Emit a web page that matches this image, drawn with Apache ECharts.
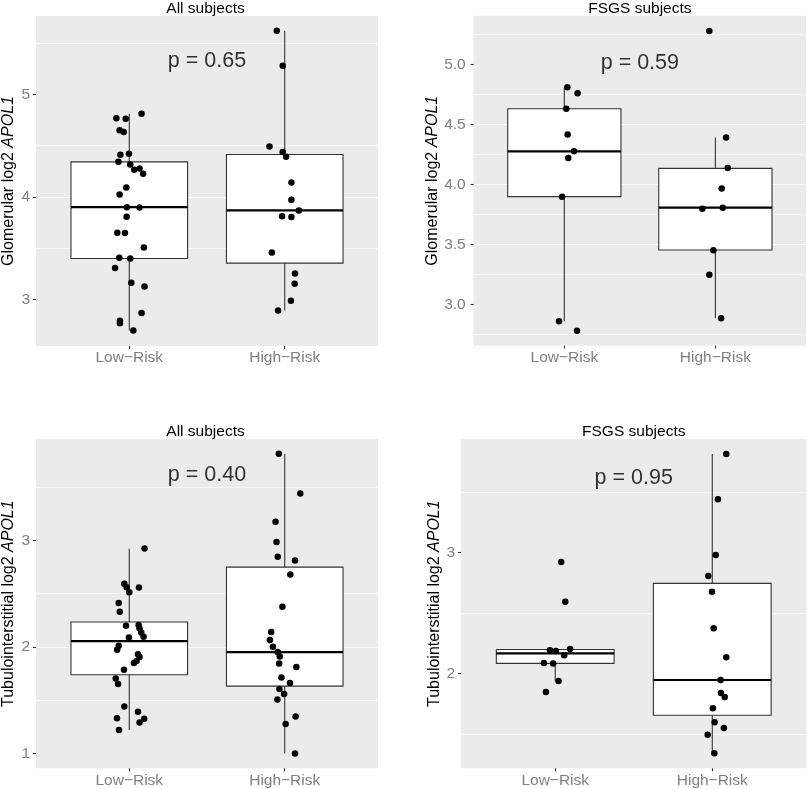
<!DOCTYPE html>
<html><head><meta charset="utf-8">
<script src="https://cdn.jsdelivr.net/npm/echarts@6/dist/echarts.min.js"></script>
<style>html,body{margin:0;padding:0;background:#fff}#chart{width:807px;height:789px}</style>
</head><body><div id="chart"></div>
<script>
// ---------- data ----------
const categories = ['Low\u2212Risk', 'High\u2212Risk'];
const categoryX = [1, 2];
const panelTitles = ['All subjects', 'FSGS subjects', 'All subjects', 'FSGS subjects'];
const yAxisTitles = ['Glomerular log2 ', 'Glomerular log2 ', 'Tubulointerstitial log2 ', 'Tubulointerstitial log2 '];
const geneName = 'APOL1';
const pValueLabels = ['p = 0.65', 'p = 0.59', 'p = 0.40', 'p = 0.95'];
const pValueY = [5.325, 5.01, 3.613, 3.615];
const yLimits = [[2.544, 5.764], [2.658, 5.408], [0.859, 3.951], [1.218, 3.940]];
const yTicks = [[3, 4, 5], [3.0, 3.5, 4.0, 4.5, 5.0], [1, 2, 3], [2, 3]];
const yTickDecimals = [0, 1, 0, 0];

// box stats: [category x, lower whisker, Q1, median, Q3, upper whisker]
const glomAllBoxes = [[1, 2.696, 3.398, 3.899, 4.341, 4.810], [2, 2.891, 3.353, 3.867, 4.413, 5.620]];
const glomFsgsBoxes = [[1, 2.861, 3.900, 4.278, 4.633, 4.811], [2, 2.886, 3.456, 3.808, 4.136, 4.394]];
const tubAllBoxes = [[1, 1.218, 1.737, 2.053, 2.232, 2.920], [2, 0.998, 1.631, 1.950, 2.748, 3.812]];
const tubFsgsBoxes = [[1, 1.939, 2.085, 2.168, 2.200, 2.204], [2, 1.342, 1.656, 1.948, 2.747, 3.816]];

// jittered points: [jittered x, value]
const glomAllLow = [[0.917,4.767],[0.977,4.761],[1.079,4.810],[0.938,4.650],[0.964,4.631],[0.943,4.410],[0.998,4.420],[0.930,4.341],[1.006,4.315],[1.032,4.263],[1.066,4.276],[1.089,4.224],[0.981,4.091],[0.938,4.023],[0.985,3.899],[1.066,3.896],[0.983,3.805],[0.923,3.649],[0.972,3.646],[1.094,3.506],[0.936,3.405],[1.006,3.398],[0.909,3.304],[1.013,3.161],[1.098,3.125],[1.079,2.865],[0.940,2.790],[0.940,2.767],[1.026,2.696]];
const glomAllHigh = [[1.949,5.620],[1.987,5.278],[1.902,4.491],[1.987,4.436],[2.009,4.390],[2.043,4.140],[2.043,3.971],[2.091,3.867],[1.983,3.811],[2.043,3.802],[1.917,3.457],[2.066,3.252],[2.064,3.151],[2.040,2.985],[1.957,2.891]];
const glomFsgsLow = [[1.020,4.811],[1.088,4.761],[1.013,4.633],[1.022,4.419],[1.064,4.278],[1.026,4.222],[0.985,3.900],[0.965,2.861],[1.084,2.783]];
const glomFsgsHigh = [[1.960,5.281],[2.071,4.394],[2.082,4.139],[2.042,3.967],[1.914,3.800],[2.049,3.808],[1.987,3.453],[1.960,3.250],[2.038,2.886]];
const tubAllLow = [[1.098,2.923],[0.968,2.592],[0.983,2.560],[1.000,2.513],[1.062,2.557],[0.932,2.410],[0.939,2.329],[0.979,2.197],[1.060,2.204],[1.066,2.172],[1.077,2.134],[1.092,2.094],[0.998,2.087],[0.932,2.009],[0.922,1.972],[1.056,1.931],[1.066,1.903],[1.047,1.866],[1.030,1.847],[0.966,1.784],[0.913,1.702],[0.928,1.650],[0.968,1.439],[1.056,1.390],[1.096,1.324],[0.921,1.330],[1.066,1.289],[0.934,1.218]];
const tubAllHigh = [[1.962,3.812],[2.100,3.440],[1.941,3.174],[1.947,2.983],[1.955,2.845],[2.066,2.811],[2.036,2.679],[1.985,2.376],[1.913,2.138],[1.905,2.063],[1.924,2.000],[1.955,1.950],[1.968,1.909],[1.964,1.843],[2.075,1.809],[1.979,1.712],[2.034,1.659],[1.966,1.603],[1.996,1.556],[1.953,1.505],[2.070,1.346],[2.006,1.274],[2.066,0.998]];
const tubFsgsLow = [[1.038,2.923],[1.064,2.595],[0.966,2.193],[1.004,2.187],[1.095,2.204],[1.057,2.152],[0.928,2.088],[0.987,2.085],[1.021,1.939],[0.941,1.848]];
const tubFsgsHigh = [[2.089,3.816],[2.036,3.441],[2.022,2.981],[1.975,2.807],[1.998,2.678],[2.009,2.375],[2.089,2.136],[2.053,1.948],[2.055,1.840],[2.079,1.807],[2.004,1.714],[2.015,1.598],[2.074,1.551],[1.971,1.496],[2.013,1.342]];

const panelBoxes = [glomAllBoxes, glomFsgsBoxes, tubAllBoxes, tubFsgsBoxes];
const panelPoints = [[glomAllLow, glomAllHigh], [glomFsgsLow, glomFsgsHigh], [tubAllLow, tubAllHigh], [tubFsgsLow, tubFsgsHigh]];

// ---------- layout / style ----------
const FONT = '"Liberation Sans", Arial, Helvetica, sans-serif';
const grids = [
  {left: 33, top: 16, width: 345, height: 330},
  {left: 473.7, top: 15.7, width: 332.3, height: 330},
  {left: 33, top: 439, width: 345, height: 329.3},
  {left: 461, top: 439, width: 345.5, height: 329.3}
];
const ySplitNumber = [3, 5, 3, 3];
const yNameGap = [19, 31, 19, 18];
const yLabelMargin = [6, 8, 6, 6];
const xRange = [0.4, 2.6];
const boxWidth = 0.75;

function renderBox(params, api) {
  const x = api.value(0);
  const pLo = api.coord([x, api.value(1)]);
  const pQ1 = api.coord([x, api.value(2)]);
  const pMed = api.coord([x, api.value(3)]);
  const pQ3 = api.coord([x, api.value(4)]);
  const pHi = api.coord([x, api.value(5)]);
  const half = api.size([boxWidth, 0])[0] / 2;
  const edge = '#333333';
  return {
    type: 'group',
    children: [
      {type: 'line', shape: {x1: pHi[0], y1: pHi[1], x2: pQ3[0], y2: pQ3[1]}, style: {stroke: edge, lineWidth: 1.1}},
      {type: 'line', shape: {x1: pQ1[0], y1: pQ1[1], x2: pLo[0], y2: pLo[1]}, style: {stroke: edge, lineWidth: 1.1}},
      {type: 'rect', shape: {x: pQ3[0] - half, y: pQ3[1], width: 2 * half, height: pQ1[1] - pQ3[1]}, style: {fill: '#ffffff', stroke: edge, lineWidth: 1.1}},
      {type: 'line', shape: {x1: pMed[0] - half, y1: pMed[1], x2: pMed[0] + half, y2: pMed[1]}, style: {stroke: '#000000', lineWidth: 2.2}}
    ]
  };
}

const option = {
  animation: false,
  textStyle: {fontFamily: FONT},
  title: [], grid: [], xAxis: [], yAxis: [], series: []
};

for (let i = 0; i < 4; i++) {
  const g = grids[i];
  option.grid.push(Object.assign({show: true, backgroundColor: '#EBEBEB', borderWidth: 0, containLabel: false}, g));
  option.title.push({
    text: panelTitles[i], left: g.left + g.width / 2, top: g.top - 15, textAlign: 'center', padding: 0,
    textStyle: {fontFamily: FONT, fontSize: 15.5, fontWeight: 'normal', color: '#000'}
  });
  option.xAxis.push({
    gridIndex: i, type: 'value', min: xRange[0], max: xRange[1],
    axisLine: {show: false},
    axisTick: {show: true, length: 3, customValues: categoryX, lineStyle: {color: '#333', width: 1.1}},
    axisLabel: {customValues: categoryX, formatter: v => categories[Math.round(v) - 1] || '', color: '#808080', fontSize: 15.5, margin: 4, fontFamily: FONT},
    splitLine: {show: true, showMinLine: false, showMaxLine: false, lineStyle: {color: '#ffffff', width: 1.1}},
    minorSplitLine: {show: false}
  });
  const dec = yTickDecimals[i];
  option.yAxis.push({
    gridIndex: i, type: 'value', min: yLimits[i][0], max: yLimits[i][1], splitNumber: ySplitNumber[i],
    axisLine: {show: false},
    axisTick: {show: true, length: 3, customValues: yTicks[i], lineStyle: {color: '#333', width: 1.1}},
    axisLabel: {customValues: yTicks[i], formatter: v => v.toFixed(dec), color: '#808080', fontSize: 15.5, margin: yLabelMargin[i], fontFamily: FONT},
    splitLine: {show: true, showMinLine: false, showMaxLine: false, lineStyle: {color: '#ffffff', width: 1.1}},
    minorTick: {show: false, splitNumber: 2},
    minorSplitLine: {show: true, lineStyle: {color: '#ffffff', width: 0.6}},
    name: '{a|' + yAxisTitles[i] + '}{b|' + geneName + '}',
    nameLocation: 'middle', nameRotate: 90, nameGap: yNameGap[i],
    nameTextStyle: {
      fontFamily: FONT,
      rich: {
        a: {fontSize: 16, color: '#000', fontFamily: FONT},
        b: {fontSize: 16, color: '#000', fontStyle: 'italic', fontFamily: FONT}
      }
    }
  });
  option.series.push({
    type: 'custom', xAxisIndex: i, yAxisIndex: i, data: panelBoxes[i], renderItem: renderBox,
    encode: {x: 0, y: [1, 2, 3, 4, 5]}, z: 2, silent: true
  });
  option.series.push({
    type: 'scatter', xAxisIndex: i, yAxisIndex: i, data: panelPoints[i][0].concat(panelPoints[i][1]),
    symbol: 'circle', symbolSize: 6.5, itemStyle: {color: '#000', opacity: 1}, z: 3, silent: true
  });
  option.series.push({
    type: 'scatter', xAxisIndex: i, yAxisIndex: i, data: [[(categoryX[0] + categoryX[1]) / 2, pValueY[i]]],
    symbolSize: 0, z: 4, silent: true,
    label: {show: true, position: 'inside', formatter: () => pValueLabels[i], fontSize: 21.5, color: '#000', fontFamily: FONT}
  });
}

const chart = echarts.init(document.getElementById('chart'), null, {renderer: 'canvas'});
chart.setOption(option);
</script>
</body></html>
